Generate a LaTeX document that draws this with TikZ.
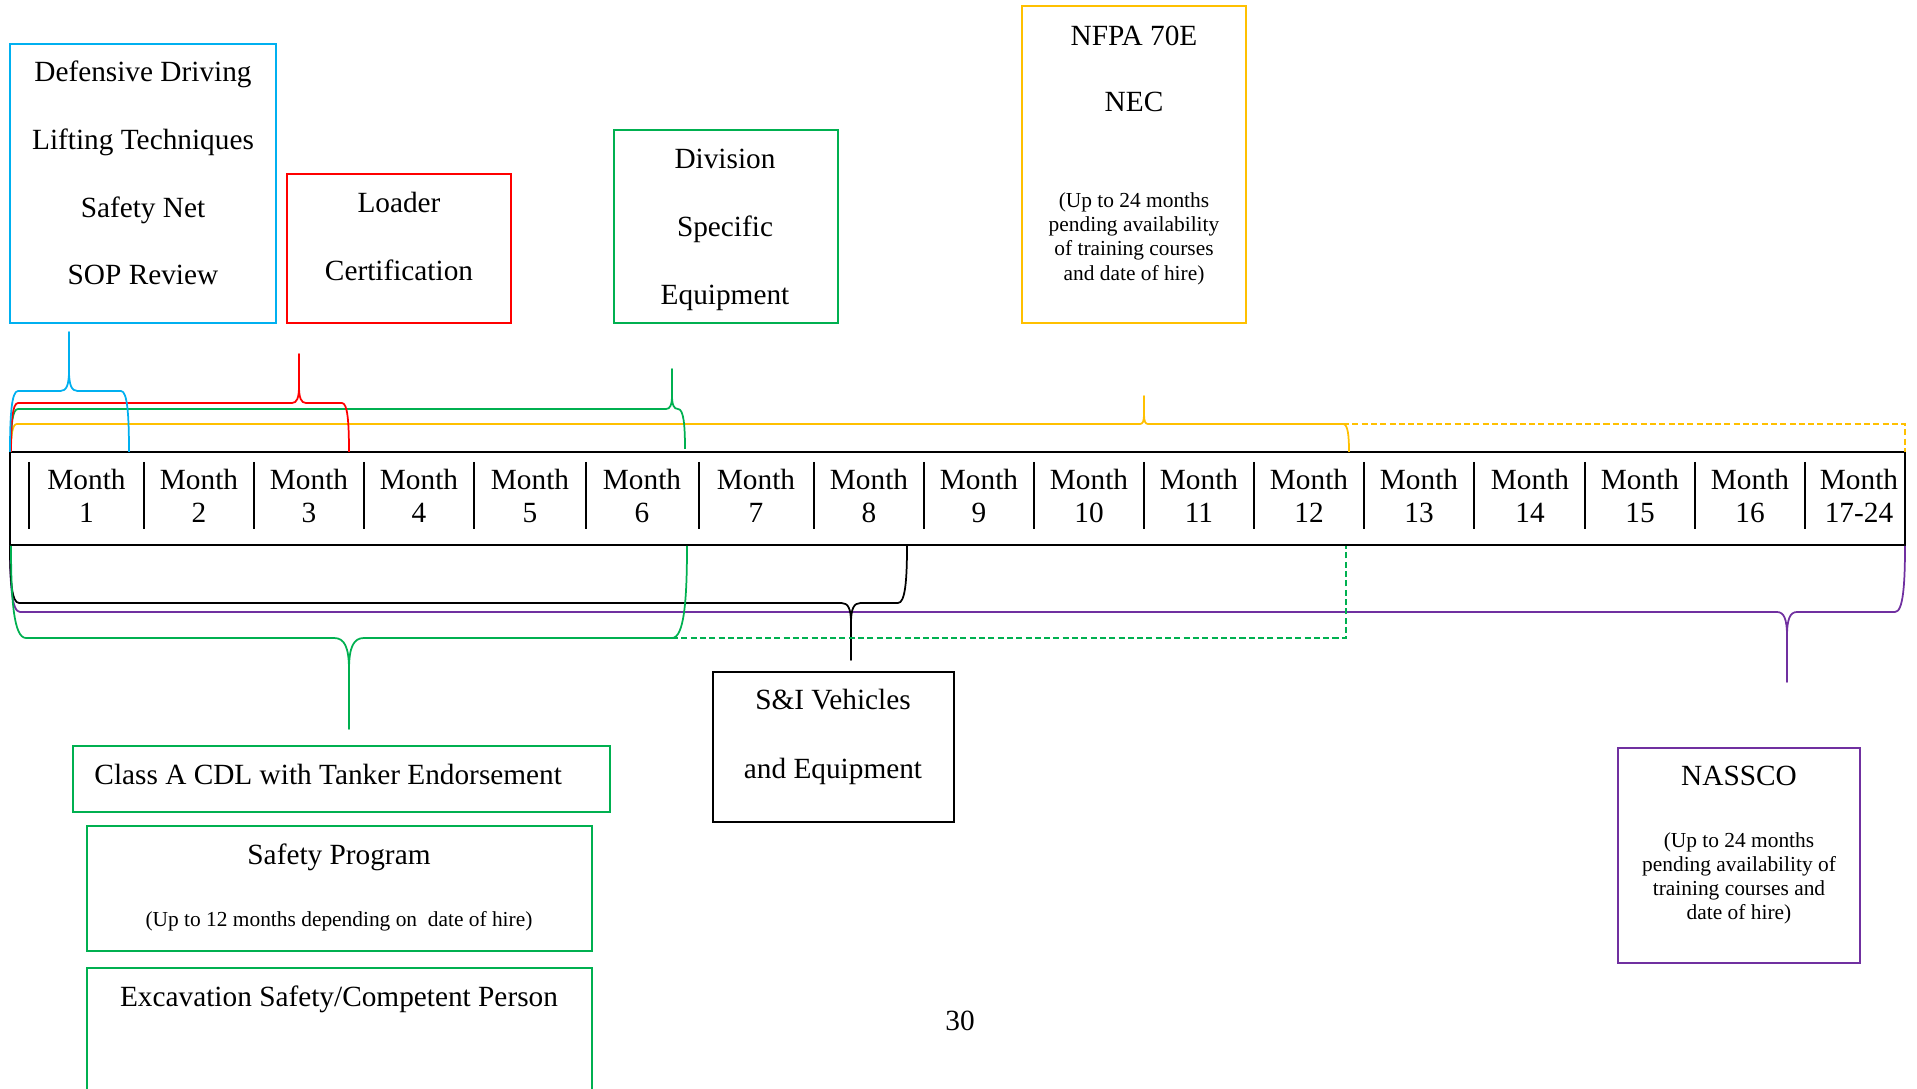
\documentclass[tikz,border=0pt]{standalone}
\usepackage{fontspec}
\setmainfont{Liberation Serif}
\usetikzlibrary{fit}
\definecolor{cblue}{HTML}{00B0F0}
\definecolor{cred}{HTML}{FF0000}
\definecolor{cgreen}{HTML}{00B050}
\definecolor{cyellow}{HTML}{FFC000}
\definecolor{cpurple}{HTML}{7030A0}
\tikzset{
  box/.style={draw, line width=0.85pt, inner sep=0pt},
  big/.style={inner sep=0pt, text height=8.4pt, text depth=0pt, font=\fontsize{12.6}{14}\selectfont},
  small/.style={inner sep=0pt, text height=6.1pt, text depth=0pt, font=\fontsize{9.2}{10.5}\selectfont},
  brc/.style={line width=0.75pt, line join=round},
  dashline/.style={line width=0.75pt, dash pattern=on 2.6pt off 1.4pt},
  divider/.style={line width=0.9pt},
}
% #1 style, #2 xL, #3 xR, #4 yEnd, #5 yHoriz, #6 xTip, #7 yTip, #8 tip half width, #9 end radius
\newcommand\tlbrace[9]{%
  \draw[brc,#1] (#2,#4) .. controls (#2,{#5+0.4*(#4-#5)}) and ({#2+0.2*#9},#5) .. ({#2+#9},#5)
    -- ({#6-#8},#5) .. controls ({#6-0.3*#8},#5) and (#6,{#5+0.1*(#7-#5)}) .. (#6,{#5+0.35*(#7-#5)})
    -- (#6,#7) -- (#6,{#5+0.35*(#7-#5)})
    .. controls (#6,{#5+0.1*(#7-#5)}) and ({#6+0.3*#8},#5) .. ({#6+#8},#5)
    -- ({#3-#9},#5) .. controls ({#3-0.2*#9},#5) and (#3,{#5+0.4*(#4-#5)}) .. (#3,#4);%
}
\begin{document}
\begin{tikzpicture}[x=0.43pt,y=-0.43pt]
\fill[white] (0,0) rectangle (1917,1089);
\useasboundingbox (0,0) rectangle (1917,1089);

% ---------- top boxes ----------
\node (bluebox) [box, draw=cblue, fit={(10,44) (276,323)}] {};
\node (t1) [big] at (143,72) {Defensive Driving};
\node (t2) [big] at (143,140) {Lifting Techniques};
\node (t3) [big] at (143,208) {Safety Net};
\node (t4) [big] at (143,275) {SOP Review};

\node (redbox) [box, draw=cred, fit={(287,174) (511,323)}] {};
\node (t5) [big] at (399,203) {Loader};
\node (t6) [big] at (399,271) {Certification};

\node (divbox) [box, draw=cgreen, fit={(614,130) (838,323)}] {};
\node (t7) [big] at (725,159) {Division};
\node (t8) [big] at (725,227) {Specific};
\node (t9) [big] at (725,295) {Equipment};

\node (nfpabox) [box, draw=cyellow, fit={(1022,6) (1246,323)}] {};
\node (t10) [big] at (1134,36) {NFPA 70E};
\node (t11) [big] at (1134,102) {NEC};
\node (t12) [small] at (1134,200) {(Up to 24 months};
\node (t13) [small] at (1134,224) {pending availability};
\node (t14) [small] at (1134,248) {of training courses};
\node (t15) [small] at (1134,273) {and date of hire)};

% ---------- timeline ----------
\node (timeline) [draw, line width=1pt, inner sep=0pt, fit={(10,452) (1905,545)}] {};
\foreach \x in {29,144,254,364,474,586,699,814,924,1034,1144,1254,1364,1474,1585,1695,1805}
  \draw[divider] (\x,462) -- (\x,529);
\foreach \i/\x/\lab in {1/86.5/1,2/199/2,3/309/3,4/419/4,5/530/5,6/642/6,7/756/7,8/869/8,9/979/9,
  10/1089/10,11/1199/11,12/1309/12,13/1419/13,14/1530/14,15/1640/15,16/1750/16,17/1859/17-24}{
  \node (mw\i) [big] at (\x,480) {Month};
  \node (mn\i) [big] at (\x,513) {\lab};
}

% ---------- braces above ----------
\tlbrace{cyellow}{11}{1349}{452}{424}{1144}{396}{4}{6}
\draw[dashline, cyellow] (1343,424) -- (1905,424) -- (1905,452);
\tlbrace{cgreen}{11}{685}{449}{409}{672}{369}{6}{7}
\tlbrace{cred}{11}{349}{452}{403}{299}{354}{7}{7}
\tlbrace{cblue}{10}{129}{452}{391}{69}{332}{8.5}{8}

% ---------- braces below ----------
\tlbrace{cpurple}{10}{1905}{546}{612}{1787}{682}{10}{10}
\tlbrace{black}{10}{907}{546}{603}{851}{660}{9.5}{9}
\tlbrace{cgreen}{11}{687}{546}{638}{349}{729}{15}{15}
\draw[dashline, cgreen] (672,638) -- (1346,638) -- (1346,546);

% ---------- bottom boxes ----------
\node (cdlbox) [box, draw=cgreen, fit={(73,746) (610,812)}] {};
\node (t16) [big, anchor=west] at (94,775) {Class A CDL with Tanker Endorsement};

\node (spbox) [box, draw=cgreen, fit={(87,826) (592,951)}] {};
\node (t17) [big] at (339,855) {Safety Program};
\node (t18) [small] at (339,919) {(Up to 12 months depending on\ \ date of hire)};

\draw[box, draw=cgreen] (87,1100) -- (87,968) -- (592,968) -- (592,1100);
\node (t19) [big] at (339,997) {Excavation Safety/Competent Person};

\node (sibox) [box, draw=black, fit={(713,672) (954,822)}] {};
\node (t20) [big] at (833,700) {S\&I Vehicles};
\node (t21) [big] at (833,769) {and Equipment};

\node (nasbox) [box, draw=cpurple, fit={(1618,748) (1860,963)}] {};
\node (t22) [big] at (1739,776) {NASSCO};
\node (t23) [small] at (1739,840) {(Up to 24 months};
\node (t24) [small] at (1739,864) {pending availability of};
\node (t25) [small] at (1739,888) {training courses and};
\node (t26) [small] at (1739,912) {date of hire)};

\node (page) [big] at (960,1021) {30};
\end{tikzpicture}
\end{document}
